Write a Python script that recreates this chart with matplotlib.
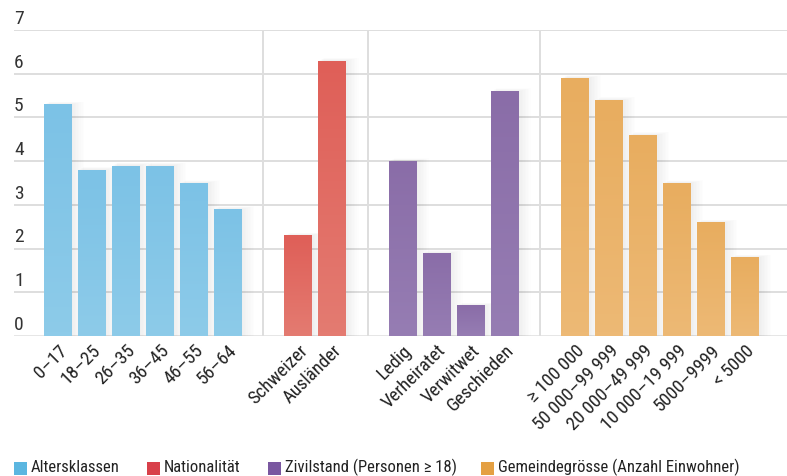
import numpy as np
import matplotlib.pyplot as plt
from matplotlib.patches import Rectangle
from matplotlib.colors import LinearSegmentedColormap

plt.rcParams['font.family'] = ['Roboto Condensed', 'Archivo Narrow', 'DejaVu Sans']

# Gruppen und Werte
alter_labels = ['0–17', '18–25', '26–35', '36–45', '46–55', '56–64']
alter_values = [5.3, 3.8, 3.9, 3.9, 3.5, 2.9]

nation_labels = ['Schweizer', 'Ausländer']
nation_values = [2.3, 6.3]

zivil_labels = ['Ledig', 'Verheiratet', 'Verwitwet', 'Geschieden']
zivil_values = [4.0, 1.9, 0.7, 5.6]

gemeinde_labels = ['≥ 100 000', '50 000–99 999', '20 000–49 999',
                   '10 000–19 999', '5000–9999', '< 5000']
gemeinde_values = [5.9, 5.4, 4.6, 3.5, 2.6, 1.8]

group_names = ['Altersklassen', 'Nationalität', 'Zivilstand (Personen ≥ 18)',
               'Gemeindegrösse (Anzahl Einwohner)']
yticks = [0, 1, 2, 3, 4, 5, 6, 7]

groups = [(alter_labels, alter_values), (nation_labels, nation_values),
          (zivil_labels, zivil_values), (gemeinde_labels, gemeinde_values)]
bar_top = ['#7cc2e6', '#df5f58', '#8a6da8', '#e8ad5f']
bar_bottom = ['#8dcbe9', '#e47b71', '#967db3', '#edb975']
legend_colors = ['#5bb6e0', '#d8404a', '#7a57a0', '#e4a043']

fig = plt.figure(figsize=(7.87, 4.76), dpi=100)
ax = fig.add_axes([14 / 787, 1 - 336 / 476, 1 - 14 / 787, 306 / 476])

width = 0.82
gap = 2.07
pos = 0.0
separators = []
xs, names = [], []
grad = np.linspace(0, 1, 64).reshape(-1, 1)
for gi, (labels, values) in enumerate(groups):
    if gi > 0:
        separators.append(pos - 1 + gap / 2)
        pos += gap - 1
    cmap = LinearSegmentedColormap.from_list('g', [bar_bottom[gi], bar_top[gi]])
    for lab, val in zip(labels, values):
        # weicher Schatten rechts neben dem Balken
        for k in range(1, 9):
            ax.add_patch(Rectangle((pos - width / 2 + 0.02 * k, 0), width + 0.025 * k,
                                   val + 0.008 * k, color='#000000', alpha=0.008,
                                   lw=0, zorder=2))
        bars = ax.bar(pos, val, width=width, color=bar_top[gi], lw=0, zorder=3)
        im = ax.imshow(grad, cmap=cmap, aspect='auto', origin='lower',
                       extent=(pos - width / 2, pos + width / 2, 0, val), zorder=3.5)
        im.set_clip_path(bars[0])
        xs.append(pos)
        names.append(lab)
        pos += 1

ax.set_xlim(-1.29, 21.44)
ax.set_ylim(0, 7)

for y in yticks:
    ax.axhline(y, color='#dedede', lw=1.4 if y else 1.8, zorder=1)
    ax.text(0.0, y + 0.05, str(y), transform=ax.get_yaxis_transform(),
            ha='left', va='bottom', fontsize=14, color='#333333')
for s in separators:
    ax.axvline(s, color='#dedede', lw=1.4, zorder=1)

ax.set_xticks(xs)
ax.set_xticklabels(names, rotation=45, ha='right', va='top',
                   rotation_mode='anchor', fontsize=13.5, color='#222222')
ax.tick_params(axis='x', length=0, pad=4)
ax.set_yticks([])
for sp in ax.spines.values():
    sp.set_visible(False)

# Legende unten
leg_x = [14, 147, 268, 481]
for x0, name, col in zip(leg_x, group_names, legend_colors):
    fig.patches.append(Rectangle((x0 / 787, 1 - 475 / 476), 13 / 787, 13 / 476,
                                 transform=fig.transFigure, color=col, lw=0))
    fig.text((x0 + 17) / 787, 1 - 472 / 476, name, ha='left', va='baseline',
             fontsize=12, color='#222222')

fig.savefig('out.png', dpi=100)
